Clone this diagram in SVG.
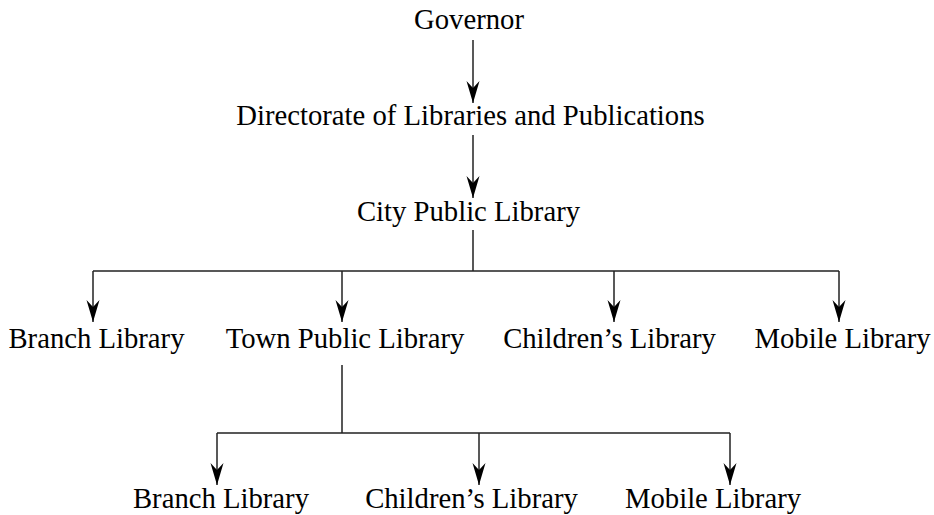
<svg xmlns="http://www.w3.org/2000/svg" width="934" height="515" viewBox="0 0 934 515">
  <defs>
    <marker id="arrow" markerUnits="userSpaceOnUse" viewBox="-23 -7 24 14" refX="0" refY="0" markerWidth="24" markerHeight="14" orient="auto" overflow="visible">
      <path d="M0,0 L-22,-6.5 L-15,0 L-22,6.5 Z" fill="#000"/>
    </marker>
    <style>
      text { font-family: "Liberation Serif", "Times New Roman", serif; font-size: 28.7px; fill: #000; text-anchor: middle; }
      .conn { stroke: #222; stroke-width: 1.5; fill: none; }
    </style>
  </defs>
  <rect width="934" height="515" fill="#fff"/>
  <g id="connectors">
    <path class="conn" d="M473,40 V103" marker-end="url(#arrow)"/>
    <path class="conn" d="M473,135 V198" marker-end="url(#arrow)"/>
    <path class="conn" d="M473,230 V271 M93,271 H839"/>
    <path class="conn" d="M93,271 V322" marker-end="url(#arrow)"/>
    <path class="conn" d="M342,271 V322" marker-end="url(#arrow)"/>
    <path class="conn" d="M614,271 V322" marker-end="url(#arrow)"/>
    <path class="conn" d="M839,271 V322" marker-end="url(#arrow)"/>
    <path class="conn" d="M342,365 V433 M217,433 H730"/>
    <path class="conn" d="M217,433 V485" marker-end="url(#arrow)"/>
    <path class="conn" d="M479,433 V485" marker-end="url(#arrow)"/>
    <path class="conn" d="M730,433 V485" marker-end="url(#arrow)"/>
  </g>
  <g id="governor"><text x="469" y="29">Governor</text></g>
  <g id="directorate"><text x="470.5" y="125">Directorate of Libraries and Publications</text></g>
  <g id="city"><text x="468.5" y="221">City Public Library</text></g>
  <g id="branch1"><text x="96.5" y="348">Branch Library</text></g>
  <g id="town"><text x="345" y="348">Town Public Library</text></g>
  <g id="children1"><text x="609.5" y="348">Children’s Library</text></g>
  <g id="mobile1"><text x="842.5" y="348">Mobile Library</text></g>
  <g id="branch2"><text x="221" y="508">Branch Library</text></g>
  <g id="children2"><text x="471.5" y="508">Children’s Library</text></g>
  <g id="mobile2"><text x="713" y="508">Mobile Library</text></g>
</svg>
